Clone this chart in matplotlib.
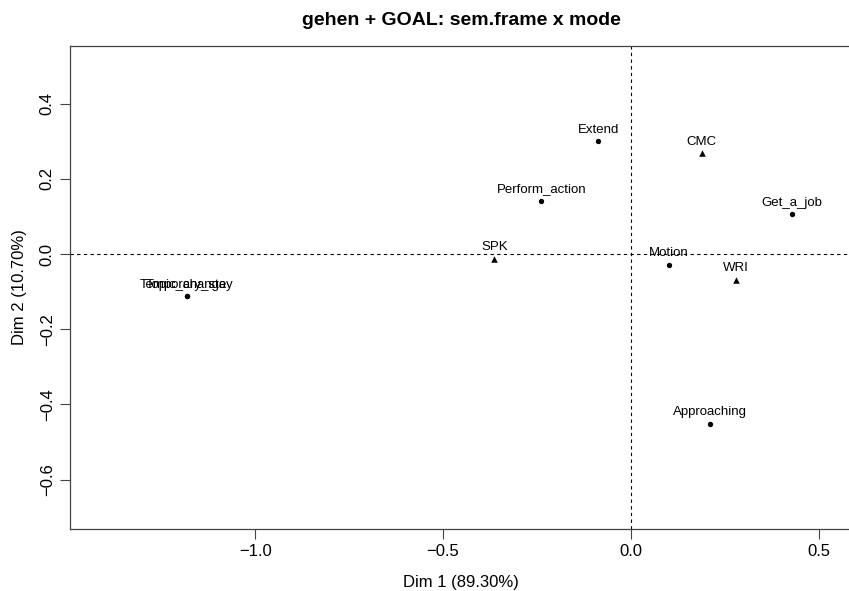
import matplotlib.pyplot as plt

# -----------------------------------------------------------------------------
# data (CA map)

frame_names = ['Extend', 'Perform_action', 'Get_a_job', 'Motion',
               'Approaching', 'Topic_change', 'Temporary_stay']
frame_dim1 = [-0.086, -0.238, 0.430, 0.102, 0.211, -1.182, -1.182]
frame_dim2 = [0.300, 0.141, 0.106, -0.029, -0.451, -0.112, -0.112]

mode_names = ['CMC', 'SPK', 'WRI']
mode_dim1 = [0.189, -0.363, 0.280]
mode_dim2 = [0.268, -0.013, -0.069]

xticks = [-1.0, -0.5, 0.0, 0.5]
yticks = [-0.6, -0.4, -0.2, 0.0, 0.2, 0.4]

# -----------------------------------------------------------------------------
# plot

plt.rcParams['font.family'] = ['Liberation Sans', 'DejaVu Sans']

W, H = 849, 591
fig = plt.figure(figsize=(W / 100, H / 100), dpi=100)
ax = fig.add_axes([70 / W, (H - 529) / H, (852 - 70) / W, (529 - 46) / H])

ax.axhline(0, color='black', lw=0.8, ls=(0, (3, 3)), zorder=1)
ax.axvline(0, color='black', lw=0.8, ls=(0, (3, 3)), zorder=1)

ax.scatter(frame_dim1, frame_dim2, s=8, marker='o', color='black', zorder=3)
ax.scatter(mode_dim1, mode_dim2, s=22, marker='^', color='black',
           linewidths=0, zorder=3)

for name, x, y in zip(frame_names + mode_names,
                      frame_dim1 + mode_dim1, frame_dim2 + mode_dim2):
    ax.annotate(name, (x, y), xytext=(0, 4), textcoords='offset points',
                ha='center', va='bottom', fontsize=9.5)

def fmt(v):
    return ('%.1f' % v).replace('-', '\u2212')

ax.set_xlim(-1.493, 0.589)
ax.set_ylim(-0.731, 0.553)
ax.set_xticks(xticks)
ax.set_yticks(yticks)
ax.set_xticklabels([fmt(v) for v in xticks])
ax.set_yticklabels([fmt(v) for v in yticks], rotation=90, va='center')
ax.tick_params(direction='out', length=7, width=0.8, labelsize=12,
               color='#444444', pad=4)
for s in ax.spines.values():
    s.set_color('#444444')
    s.set_linewidth(0.9)

ax.set_xlabel('Dim 1 (89.30%)', fontsize=12, labelpad=11)
ax.set_ylabel('Dim 2 (10.70%)', fontsize=12, labelpad=9)
ax.set_title('gehen + GOAL: sem.frame x mode', fontsize=14,
             fontweight='bold', pad=15)

fig.savefig('out.png', dpi=100)
